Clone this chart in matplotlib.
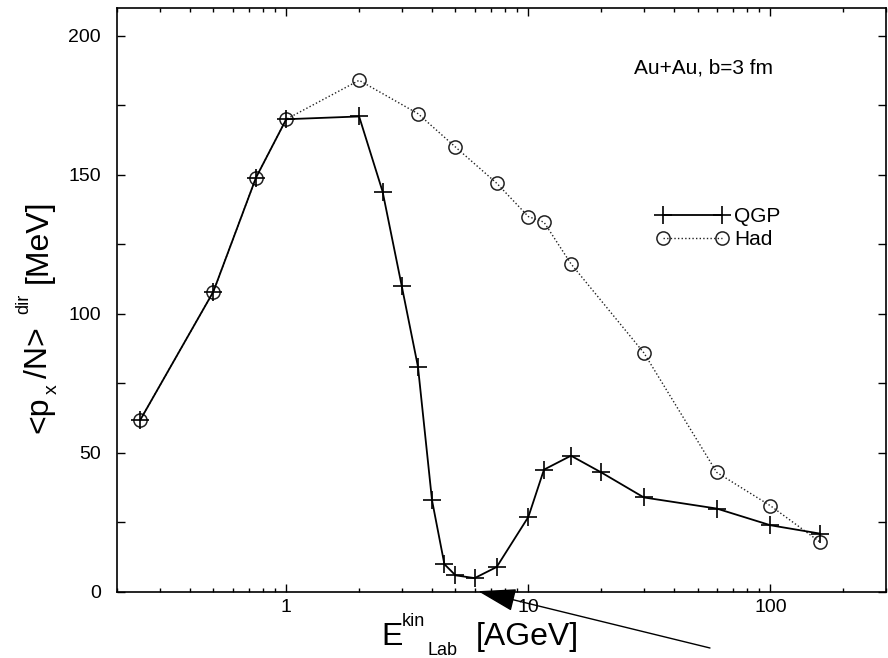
import matplotlib
matplotlib.use("Agg")
import matplotlib.pyplot as plt
from matplotlib.ticker import FixedLocator, FixedFormatter, LogLocator, NullFormatter, MultipleLocator
from matplotlib.legend_handler import HandlerLine2D

plt.rcParams['font.family'] = ['Liberation Sans', 'DejaVu Sans']

# Directed flow <p_x/N>^dir vs. beam energy, Au+Au at b = 3 fm
qgp_energy = [0.25, 0.5, 0.75, 1, 2, 2.5, 3, 3.5, 4, 4.5, 5, 6, 7.4, 10, 11.6, 15, 20, 30, 60, 100, 160]
qgp_flow = [62, 108, 149, 170, 171, 144, 110, 81, 33, 10, 6, 5, 9, 27, 44, 49, 43, 34, 30, 24, 21]

had_energy = [0.25, 0.5, 0.75, 1, 2, 3.5, 5, 7.4, 10, 11.6, 15, 30, 60, 100, 160]
had_flow = [62, 108, 149, 170, 184, 172, 160, 147, 135, 133, 118, 86, 43, 31, 18]

x_ticks = [1, 10, 100]
x_tick_labels = ["1", "10", "100"]
y_ticks = [0, 50, 100, 150, 200]

W, H = 888, 658
fig = plt.figure(figsize=(W / 100, H / 100), dpi=100)


def fx(px):
    return px / W


def fy(py):
    return 1 - py / H


ax = fig.add_axes([fx(117), fy(592), fx(886) - fx(117), fy(8) - fy(592)])

had_line, = ax.plot(had_energy, had_flow, color='#222222', lw=1.0,
                    linestyle=(0, (1, 1.6)), marker='o', ms=9.5,
                    mfc='none', mec='#222222', mew=1.1, label='Had', zorder=2)
qgp_line, = ax.plot(qgp_energy, qgp_flow, color='black', lw=1.3,
                    marker='+', ms=13, mew=1.2, label='QGP', zorder=3)

ax.set_xscale('log')
ax.set_xlim(0.2, 300)
ax.set_ylim(0, 210)

ax.xaxis.set_major_locator(FixedLocator(x_ticks))
ax.xaxis.set_major_formatter(FixedFormatter(x_tick_labels))
ax.xaxis.set_minor_locator(LogLocator(base=10, subs=range(2, 10)))
ax.xaxis.set_minor_formatter(NullFormatter())
ax.yaxis.set_major_locator(FixedLocator(y_ticks))
ax.yaxis.set_minor_locator(MultipleLocator(25))

ax.tick_params(which='both', direction='in', top=True, right=True, width=1.0, colors='black')
ax.tick_params(axis='x', which='major', length=5.5, labelsize=14, pad=5)
ax.tick_params(axis='x', which='minor', length=3)
ax.tick_params(axis='y', which='both', length=5.5, labelsize=14, pad=11.5)
for s in ax.spines.values():
    s.set_linewidth(1.2)

# Legend, markers at both ends of each sample line
ax.legend(handles=[qgp_line, had_line], loc='upper left',
          bbox_to_anchor=(fx(663), fy(207)), bbox_transform=fig.transFigure,
          frameon=False, numpoints=2, handlelength=2.85, handletextpad=0.55,
          labelspacing=0.2, borderpad=0, borderaxespad=0, fontsize=15,
          handler_map={qgp_line: HandlerLine2D(marker_pad=0),
                       had_line: HandlerLine2D(marker_pad=0)})

fig.text(fx(634), fy(73), "Au+Au, b=3 fm", fontsize=15, ha='left', va='baseline')

# x-axis title: E^kin_Lab [AGeV]
fig.text(fx(381), fy(645), "E", fontsize=23, ha='left', va='baseline')
fig.text(fx(402), fy(626), "kin", fontsize=13, ha='left', va='baseline')
fig.text(fx(427), fy(655), "Lab", fontsize=13, ha='left', va='baseline')
fig.text(fx(476), fy(645), "[AGeV]", fontsize=23, ha='left', va='baseline')

# y-axis title: <p_x/N>^dir [MeV]
rot = dict(rotation=90, rotation_mode='anchor', ha='left', va='baseline')
fig.text(fx(47), fy(433), "<p", fontsize=23, **rot)
fig.text(fx(57), fy(394), "x", fontsize=14, **rot)
fig.text(fx(47), fy(378), "/N>", fontsize=23, **rot)
fig.text(fx(28), fy(314), "dir", fontsize=13, **rot)
fig.text(fx(47), fy(283), "[MeV]", fontsize=23, **rot)

# Arrow marking the minimum of the QGP curve
ax.annotate('', xy=(6.2, 0.3), xycoords='data',
            xytext=(710, H - 648), textcoords='figure pixels',
            arrowprops=dict(arrowstyle='-|>,head_length=1.6,head_width=0.48',
                            mutation_scale=15, lw=1.0, color='black',
                            shrinkA=0, shrinkB=0),
            annotation_clip=False)

fig.savefig('out.png', dpi=100)
